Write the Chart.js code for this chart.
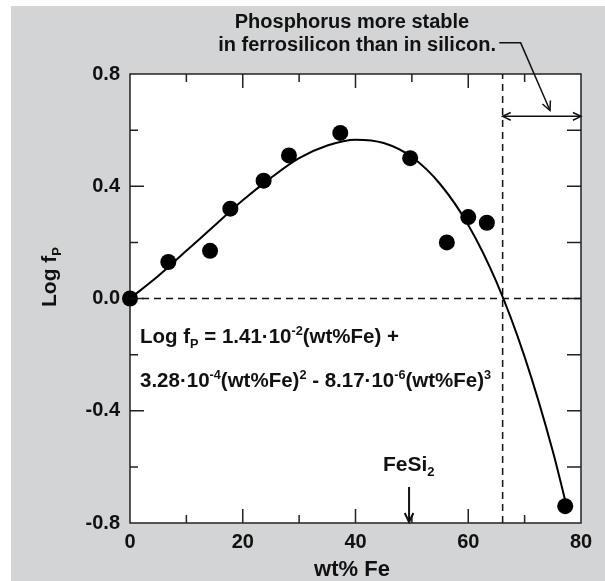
<!DOCTYPE html>
<html>
<head>
<meta charset="utf-8">
<script src="https://cdn.jsdelivr.net/npm/chart.js@4/dist/chart.umd.min.js"></script>
<style>
  html, body { margin: 0; padding: 0; background: #fff; }
  #wrap { width: 605px; height: 581px; }
</style>
</head>
<body>
<div id="wrap"><canvas id="chart" width="605" height="581"></canvas></div>
<script>
// measured points (wt% Fe, log fP)
const feWt = [0, 6.8, 14.2, 17.8, 23.7, 28.2, 37.3, 49.7, 56.2, 60.0, 63.3, 77.2];
const logF = [0, 0.13, 0.17, 0.32, 0.42, 0.51, 0.59, 0.50, 0.20, 0.29, 0.27, -0.74];

// fitted curve
const curveX = [0, 5, 10, 15, 20, 25, 30, 35, 40, 45, 50, 55, 60, 65, 70, 75, 77.2];
const curveY = [0, 0.08, 0.17, 0.26, 0.35, 0.43, 0.50, 0.545, 0.566, 0.554, 0.504, 0.408, 0.262, 0.059, -0.208, -0.544, -0.72];

const xTickLabels = [0, 20, 40, 60, 80];
const yTickLabels = [-0.8, -0.4, 0.0, 0.4, 0.8];

const stableLimit = 66.1;   // vertical dashed line
const fesi2 = 49.5;         // FeSi2 arrow

const FONT = '"Liberation Sans", Arial, sans-serif';

function pts(xs, ys) {
  return xs.map((x, i) => ({ x: x, y: ys[i] }));
}

// text with sub/superscripts
function richWidth(ctx, parts, size) {
  let w = 0;
  parts.forEach(p => {
    const s = p[1] ? size * 0.62 : size;
    ctx.font = 'bold ' + s + 'px ' + FONT;
    w += ctx.measureText(p[0]).width;
  });
  return w;
}
function drawRich(ctx, parts, x, y, size) {
  ctx.textAlign = 'left';
  ctx.textBaseline = 'alphabetic';
  parts.forEach(p => {
    let s = size, dy = 0;
    if (p[1] === 'sub') { s = size * 0.62; dy = size * 0.22; }
    if (p[1] === 'sup') { s = size * 0.62; dy = -size * 0.38; }
    ctx.font = 'bold ' + s + 'px ' + FONT;
    ctx.fillText(p[0], x, y + dy);
    x += ctx.measureText(p[0]).width;
  });
}

function arrowHead(ctx, x1, y1, x2, y2, len) {
  const a = Math.atan2(y2 - y1, x2 - x1);
  ctx.beginPath();
  ctx.moveTo(x2 - len * Math.cos(a - 0.45), y2 - len * Math.sin(a - 0.45));
  ctx.lineTo(x2, y2);
  ctx.lineTo(x2 - len * Math.cos(a + 0.45), y2 - len * Math.sin(a + 0.45));
  ctx.stroke();
}

const backdrop = {
  id: 'backdrop',
  beforeDraw(chart) {
    const { ctx, chartArea: a } = chart;
    ctx.save();
    ctx.fillStyle = '#ffffff';
    ctx.fillRect(0, 0, chart.width, chart.height);
    ctx.fillStyle = '#d3d4d6';
    ctx.fillRect(11, 6, chart.width - 11, chart.height - 6);
    ctx.fillStyle = '#ffffff';
    ctx.fillRect(a.left, a.top, a.right - a.left, a.bottom - a.top);
    ctx.restore();
  },
  beforeDatasetsDraw(chart) {
    const { ctx, chartArea: a, scales } = chart;
    const xs = scales.x, ys = scales.y;
    ctx.save();
    ctx.strokeStyle = '#222';
    ctx.lineWidth = 1.5;
    ctx.strokeRect(a.left, a.top, a.right - a.left, a.bottom - a.top);
    ctx.beginPath();
    // x ticks, bottom and top, pointing in
    for (let v = 10; v < 80; v += 10) {
      const px = xs.getPixelForValue(v);
      const len = v % 20 === 0 ? 14 : 8;
      ctx.moveTo(px, a.bottom); ctx.lineTo(px, a.bottom - len);
      ctx.moveTo(px, a.top); ctx.lineTo(px, a.top + len);
    }
    // y ticks, left and right
    for (let k = -3; k <= 3; k++) {
      const py = ys.getPixelForValue(k * 0.2);
      ctx.moveTo(a.left, py); ctx.lineTo(a.left + (k % 2 === 0 ? 14 : 8), py);
      ctx.moveTo(a.right, py); ctx.lineTo(a.right - 14, py);
    }
    ctx.stroke();
    ctx.restore();
  },
  afterDraw(chart) {
    const { ctx, scales } = chart;
    const xs = scales.x, ys = scales.y;
    const X = v => xs.getPixelForValue(v);
    const Y = v => ys.getPixelForValue(v);
    ctx.save();
    ctx.fillStyle = '#111';
    ctx.strokeStyle = '#111';

    // axis titles
    ctx.font = 'bold 22px ' + FONT;
    ctx.textAlign = 'center';
    ctx.textBaseline = 'alphabetic';
    ctx.fillText('wt% Fe', 352, 576);

    const yTitle = [['Log f'], ['P', 'sub']];
    ctx.save();
    ctx.translate(56, 277);
    ctx.rotate(-Math.PI / 2);
    drawRich(ctx, yTitle, -richWidth(ctx, yTitle, 21) / 2, 0, 21);
    ctx.restore();

    // fit equation
    drawRich(ctx, [['Log f'], ['P', 'sub'], [' = 1.41·10'], ['-2', 'sup'], ['(wt%Fe) +']], 140, 343, 20.5);
    drawRich(ctx, [['3.28·10'], ['-4', 'sup'], ['(wt%Fe)'], ['2', 'sup'], [' - 8.17·10'], ['-6', 'sup'], ['(wt%Fe)'], ['3', 'sup']], 140, 387, 20.5);

    // FeSi2 marker
    drawRich(ctx, [['FeSi'], ['2', 'sub']], 383, 471, 21);
    ctx.lineWidth = 2;
    ctx.beginPath();
    ctx.moveTo(X(fesi2), 487); ctx.lineTo(X(fesi2), Y(-0.8) - 1);
    ctx.stroke();
    arrowHead(ctx, X(fesi2), 487, X(fesi2), Y(-0.8) - 1, 10);

    // note at top
    ctx.font = 'bold 20px ' + FONT;
    ctx.textAlign = 'center';
    ctx.fillText('Phosphorus more stable', 352, 28);
    ctx.textAlign = 'right';
    ctx.fillText('in ferrosilicon than in silicon.', 496, 51);

    ctx.lineWidth = 1.5;
    ctx.beginPath();
    ctx.moveTo(X(65.5), Y(0.911));
    ctx.lineTo(X(69.3), Y(0.911));
    ctx.lineTo(X(74.5), Y(0.670));
    ctx.stroke();
    arrowHead(ctx, X(69.3), Y(0.911), X(74.5), Y(0.670), 10);

    // double arrow over the region right of the limit
    ctx.beginPath();
    ctx.moveTo(X(stableLimit), Y(0.649));
    ctx.lineTo(X(80), Y(0.649));
    ctx.stroke();
    arrowHead(ctx, X(80), Y(0.649), X(stableLimit), Y(0.649), 9);
    arrowHead(ctx, X(stableLimit), Y(0.649), X(80), Y(0.649), 9);
    ctx.restore();
  }
};

const tickFont = { family: FONT, size: 20, weight: 'bold' };

new Chart(document.getElementById('chart'), {
  type: 'scatter',
  data: {
    datasets: [
      {
        data: [{ x: 0, y: 0 }, { x: 80, y: 0 }],
        showLine: true, pointRadius: 0, borderColor: '#111', borderWidth: 1.5, borderDash: [7, 5]
      },
      {
        data: [{ x: stableLimit, y: -0.8 }, { x: stableLimit, y: 0.8 }],
        showLine: true, pointRadius: 0, borderColor: '#111', borderWidth: 1.5, borderDash: [7, 5]
      },
      {
        data: pts(curveX, curveY),
        showLine: true, pointRadius: 0, borderColor: '#000', borderWidth: 2,
        cubicInterpolationMode: 'monotone'
      },
      {
        data: pts(feWt, logF),
        pointRadius: 8, pointBackgroundColor: '#000', pointBorderWidth: 0, clip: false
      }
    ]
  },
  options: {
    responsive: false,
    animation: false,
    layout: { padding: { top: 74, right: 24, left: 0, bottom: 0 } },
    plugins: { legend: { display: false }, tooltip: { enabled: false } },
    scales: {
      x: {
        type: 'linear', min: 0, max: 80,
        afterBuildTicks: s => { s.ticks = xTickLabels.map(v => ({ value: v })); },
        ticks: { font: tickFont, color: '#111', padding: 7 },
        grid: { display: false, drawTicks: false },
        border: { display: false },
        afterFit: s => { s.height = 58; }
      },
      y: {
        type: 'linear', min: -0.8, max: 0.8,
        afterBuildTicks: s => { s.ticks = yTickLabels.map(v => ({ value: v })); },
        ticks: { font: tickFont, color: '#111', padding: 10, callback: v => v.toFixed(1) },
        grid: { display: false, drawTicks: false },
        border: { display: false },
        afterFit: s => { s.width = 130; }
      }
    }
  },
  plugins: [backdrop]
});
</script>
</body>
</html>
